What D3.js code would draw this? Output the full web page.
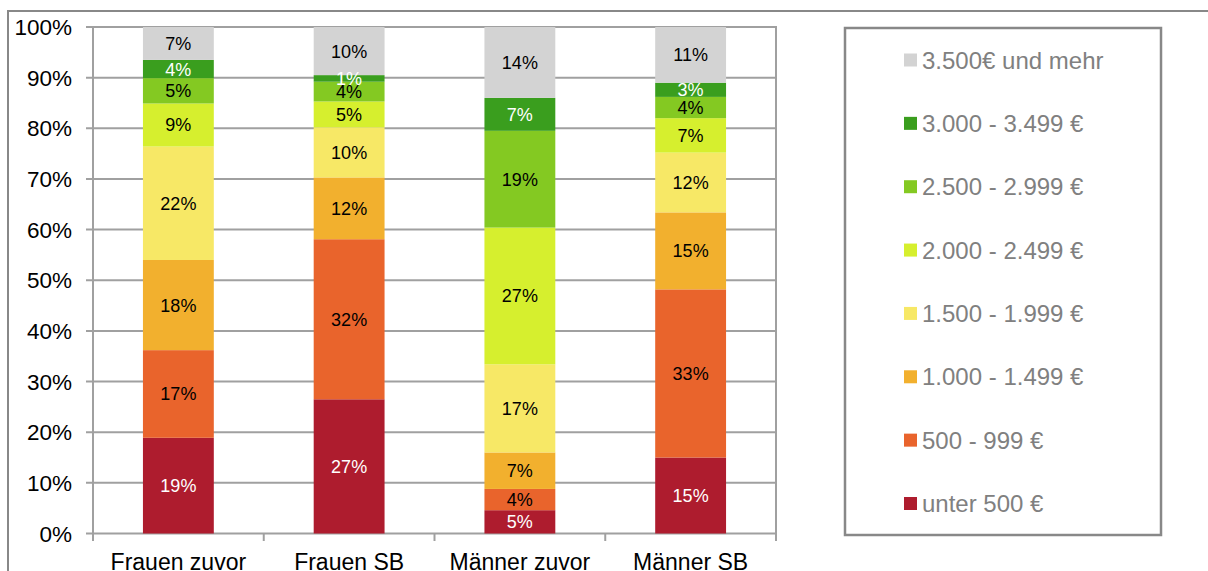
<!DOCTYPE html>
<html>
<head>
<meta charset="utf-8">
<script src="https://cdn.jsdelivr.net/npm/d3@7"></script>
<style>
  body { margin: 0; background: #fff; }
  svg { display: block; font-family: "Liberation Sans", Arial, Helvetica, sans-serif; }
</style>
</head>
<body>
<svg width="1208" height="571"></svg>
<script>
// categories (x) and income groups (stack order, bottom to top)
var categories = ["Frauen zuvor", "Frauen SB", "Männer zuvor", "Männer SB"];
var groups = ["unter 500 €", "500 - 999 €", "1.000 - 1.499 €", "1.500 - 1.999 €",
              "2.000 - 2.499 €", "2.500 - 2.999 €", "3.000 - 3.499 €", "3.500€ und mehr"];
var colors = ["#ae1c2e", "#e9642c", "#f2b02e", "#f7e866",
              "#d6ef2e", "#84c922", "#3a9e1e", "#d3d3d3"];

// shares in % per category, same order as groups
var frauenZuvor = [18.9, 17.3, 17.8, 22.4, 8.5, 5.0, 3.6, 6.5];
var frauenSB    = [26.5, 31.6, 12.2, 9.9, 5.1, 3.9, 1.3, 9.5];
var maennerZuvor = [4.6, 4.2, 7.2, 17.4, 27.0, 19.1, 6.5, 14.0];
var maennerSB   = [15.0, 33.2, 15.2, 11.8, 6.8, 4.2, 2.8, 11.0];

var yTicks = [0, 10, 20, 30, 40, 50, 60, 70, 80, 90, 100];

var series = [frauenZuvor, frauenSB, maennerZuvor, maennerSB];
var rows = categories.map(function(c, i) {
  var r = { cat: c };
  groups.forEach(function(g, j) { r[g] = series[i][j]; });
  return r;
});

var svg = d3.select("svg");
var gridColor = "#a0a0a0";

// outer frame
svg.append("rect")
  .attr("x", 8).attr("y", 11)
  .attr("width", 1220).attr("height", 600)
  .attr("fill", "none").attr("stroke", "#888").attr("stroke-width", 2);

var x = d3.scaleBand().domain(categories).range([93, 776]).padding(0);
var y = d3.scaleLinear().domain([0, 100]).range([533.5, 27]);
var barW = x.bandwidth() * 0.415;

// gridlines + y ticks
svg.append("g").selectAll("line")
  .data(yTicks)
  .enter().append("line")
    .attr("x1", 86).attr("x2", 776)
    .attr("y1", d => y(d)).attr("y2", d => y(d))
    .attr("stroke", gridColor).attr("stroke-width", 2);

svg.append("g").selectAll("text")
  .data(yTicks)
  .enter().append("text")
    .attr("x", 72).attr("y", d => y(d))
    .attr("dy", "0.36em")
    .attr("text-anchor", "end")
    .attr("font-size", 22.5)
    .attr("fill", "#000")
    .text(d => d + "%");

// left axis and right border of plot
svg.append("line").attr("x1", 93).attr("x2", 93).attr("y1", 27).attr("y2", 541)
  .attr("stroke", gridColor).attr("stroke-width", 2);
svg.append("line").attr("x1", 776).attr("x2", 776).attr("y1", 26).attr("y2", 541)
  .attr("stroke", gridColor).attr("stroke-width", 2);

// x tick marks at band boundaries
svg.append("g").selectAll("line")
  .data(categories.slice(1))
  .enter().append("line")
    .attr("x1", d => x(d)).attr("x2", d => x(d))
    .attr("y1", 533).attr("y2", 541)
    .attr("stroke", gridColor).attr("stroke-width", 2);

// stacked bars
var stack = d3.stack().keys(groups)(rows);

var layers = svg.append("g").selectAll("g")
  .data(stack)
  .enter().append("g")
    .attr("fill", (d, i) => colors[i]);

layers.selectAll("rect")
  .data(d => d)
  .enter().append("rect")
    .attr("x", d => x(d.data.cat) + (x.bandwidth() - barW) / 2)
    .attr("width", barW)
    .attr("y", d => y(d[1]))
    .attr("height", d => y(d[0]) - y(d[1]));

// value labels
stack.forEach(function(layer, i) {
  var white = (i === 0 || i === 6);
  svg.append("g").selectAll("text")
    .data(layer)
    .enter().append("text")
      .attr("x", d => x(d.data.cat) + x.bandwidth() / 2)
      .attr("y", d => y((d[0] + d[1]) / 2))
      .attr("dy", "0.36em")
      .attr("text-anchor", "middle")
      .attr("font-size", 18)
      .attr("fill", white ? "#fff" : "#000")
      .text(d => Math.round(d[1] - d[0]) + "%");
});

// category labels
svg.append("g").selectAll("text")
  .data(categories)
  .enter().append("text")
    .attr("x", d => x(d) + x.bandwidth() / 2)
    .attr("y", 570)
    .attr("text-anchor", "middle")
    .attr("font-size", 23)
    .attr("fill", "#000")
    .text(d => d);

// legend
svg.append("rect")
  .attr("x", 845).attr("y", 28)
  .attr("width", 316).attr("height", 507)
  .attr("fill", "#fff").attr("stroke", "#888").attr("stroke-width", 2.5);

var legendOrder = groups.map((g, i) => ({ name: g, color: colors[i] })).reverse();
var ly = d3.scalePoint().domain(legendOrder.map(d => d.name)).range([60, 503.5]);

var items = svg.append("g").selectAll("g")
  .data(legendOrder)
  .enter().append("g")
    .attr("transform", d => "translate(904," + ly(d.name) + ")");

items.append("rect")
  .attr("x", 0).attr("y", -6.5)
  .attr("width", 13).attr("height", 13)
  .attr("fill", d => d.color);

items.append("text")
  .attr("x", 18).attr("y", 0)
  .attr("dy", "0.36em")
  .attr("font-size", 24)
  .attr("fill", "#808080")
  .text(d => d.name);
</script>
</body>
</html>
